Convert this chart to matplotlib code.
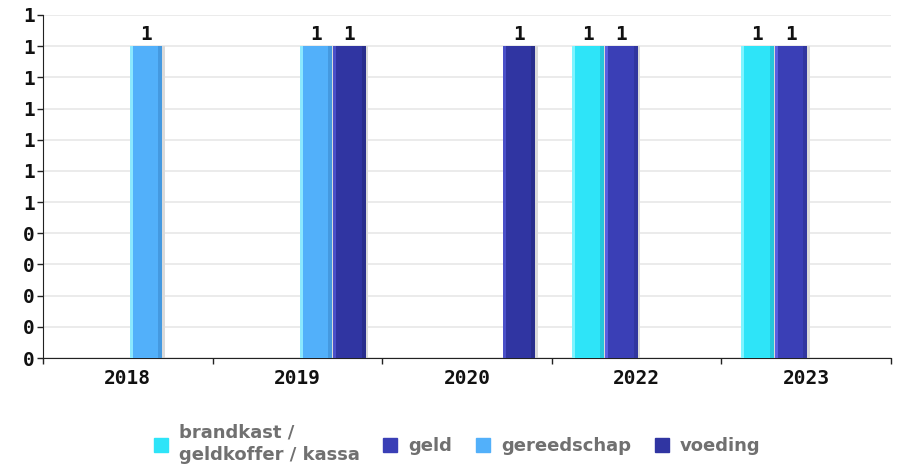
import matplotlib.pyplot as plt
from matplotlib.lines import Line2D
import numpy as np

# counts per year and category
years = ['2018', '2019', '2020', '2022', '2023']
categories = ['brandkast /\ngeldkoffer / kassa', 'geld', 'gereedschap', 'voeding']
brandkast = [0, 0, 0, 1, 1]
geld = [0, 0, 0, 1, 1]
gereedschap = [1, 1, 0, 0, 0]
voeding = [0, 1, 1, 0, 0]
y_ticks = [0.0, 0.1, 0.2, 0.3, 0.4, 0.5, 0.6, 0.7, 0.8, 0.9, 1.0, 1.1]
y_tick_labels = ['0', '0', '0', '0', '0', '1', '1', '1', '1', '1', '1', '1']

colors = ['#2ee4f8', '#3a3fb6', '#52b0fa', '#3035a2']
light = ['#7ff4ff', '#5a60e0', '#8ae8ff', '#4a50c8']
dark = ['#22b4c8', '#2c3090', '#3c8ad0', '#24287e']

tick_font = {'family': 'DejaVu Sans Mono', 'weight': 'bold', 'size': 14}


def main():
    fig = plt.figure(figsize=(9.01, 4.66), dpi=100)
    ax = fig.add_axes([43 / 901, 108 / 466, 848 / 901, 343 / 466])

    series = [brandkast, geld, gereedschap, voeding]
    x = np.arange(len(years))
    slot = 0.198
    width = 0.19
    px = 1 / 169.6  # one pixel in x data units

    for i, values in enumerate(series):
        pos = x + (i - 1.5) * slot + 0.01
        # soft shadow right of the bar
        ax.bar(pos + 2.5 * px, values, width, color='#dadada', zorder=2)
        ax.bar(pos, values, width, color=colors[i], zorder=3)
        ax.bar(pos - width / 2 + 1.5 * px, values, 3 * px, color=light[i], zorder=4)
        ax.bar(pos + width / 2 - 2 * px, values, 4 * px, color=dark[i], zorder=4, alpha=0.6)
        for xp, v in zip(pos, values):
            if v:
                ax.annotate(f'{v:.0f}', (xp, v), xytext=(0, 1.5), textcoords='offset points',
                            ha='center', va='bottom', color='#111111', zorder=5,
                            **tick_font)

    ax.set_xlim(-0.5, len(years) - 0.5)
    ax.set_ylim(0, 1.1)
    ax.set_yticks(y_ticks)
    ax.set_yticklabels(y_tick_labels)
    ax.set_xticks(x)
    ax.set_xticklabels(years)
    ax.set_xticks(np.arange(len(years) + 1) - 0.5, minor=True)
    ax.tick_params(axis='x', which='major', length=0, pad=8)
    ax.tick_params(axis='x', which='minor', length=4, width=1, color='#222222')
    ax.tick_params(axis='y', length=4, width=1, pad=2, color='#222222')
    for lab in ax.get_xticklabels() + ax.get_yticklabels():
        lab.set_fontproperties(tick_font)
        lab.set_color('#111111')

    ax.grid(axis='y', color='#e8e8e8', linewidth=1.2, zorder=0)
    ax.set_axisbelow(True)
    ax.spines['top'].set_visible(False)
    ax.spines['right'].set_visible(False)
    ax.spines['left'].set_color('#222222')
    ax.spines['bottom'].set_color('#222222')

    handles = [Line2D([], [], marker='s', linestyle='none', markersize=10,
                      markerfacecolor=c, markeredgecolor=c) for c in colors]
    leg = fig.legend(handles, categories, loc='center', bbox_to_anchor=(457 / 901, 22 / 466),
                     ncol=4, frameon=False, handletextpad=0.6, columnspacing=1.3,
                     handlelength=0.8, labelspacing=0.1,
                     prop={'size': 13, 'weight': 'bold'}, labelcolor='#707070')
    for t in leg.get_texts():
        t.set_linespacing(1.3)

    fig.savefig('out.png', dpi=100)


if __name__ == '__main__':
    main()
